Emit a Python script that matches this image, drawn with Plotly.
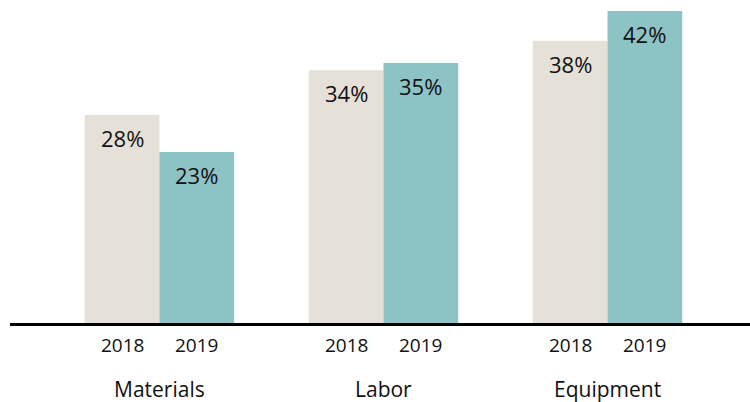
import plotly.graph_objects as go

categories = ["Materials", "Labor", "Equipment"]
years = ["2018", "2019"]
values_2018 = [28, 34, 38]
values_2019 = [23, 35, 42]

colors = {"2018": "#E6E1D8", "2019": "#8EC3C6"}
font_family = "Open Sans, Noto Sans, sans-serif"

bargap = 0.333
bar_w = (1 - bargap) / 2
xs = list(range(len(categories)))

fig = go.Figure()
series = {"2018": values_2018, "2019": values_2019}
for yr in years:
    fig.add_trace(go.Bar(
        x=xs, y=series[yr], name=yr, marker_color=colors[yr],
        marker_line_width=0, hoverinfo="skip",
    ))

annotations = []
for j, yr in enumerate(years):
    off = (j - 0.5) * bar_w
    for i, cat in enumerate(categories):
        v = series[yr][i]
        annotations.append(dict(
            x=i + off, y=v, xref="x", yref="y", text=f"{v}%",
            showarrow=False, yanchor="middle", yshift=-23,
            font=dict(size=22, color="#111111", family=font_family),
        ))
        annotations.append(dict(
            x=i + off, y=0, xref="x", yref="paper", text=yr,
            showarrow=False, yanchor="middle", yshift=-22,
            font=dict(size=19, color="#111111", family=font_family),
        ))
for i, cat in enumerate(categories):
    annotations.append(dict(
        x=i, y=0, xref="x", yref="paper", text=cat,
        showarrow=False, yanchor="middle", yshift=-66,
        font=dict(size=21, color="#111111", family=font_family),
    ))

fig.update_layout(
    width=750, height=402,
    margin=dict(l=10, r=0, t=0, b=79),
    barmode="group", bargap=bargap, bargroupgap=0,
    plot_bgcolor="white", paper_bgcolor="white",
    showlegend=False,
    annotations=annotations,
    xaxis=dict(range=[-0.667, 2.636], showticklabels=False, showgrid=False,
               zeroline=False, showline=True, linecolor="black", linewidth=3,
               ticks=""),
    yaxis=dict(range=[0, 43.47], visible=False, showgrid=False, zeroline=False),
)

fig.write_html("out.html", config={"displayModeBar": False},
               post_script="document.body.style.margin='0';document.body.style.overflow='hidden';")
